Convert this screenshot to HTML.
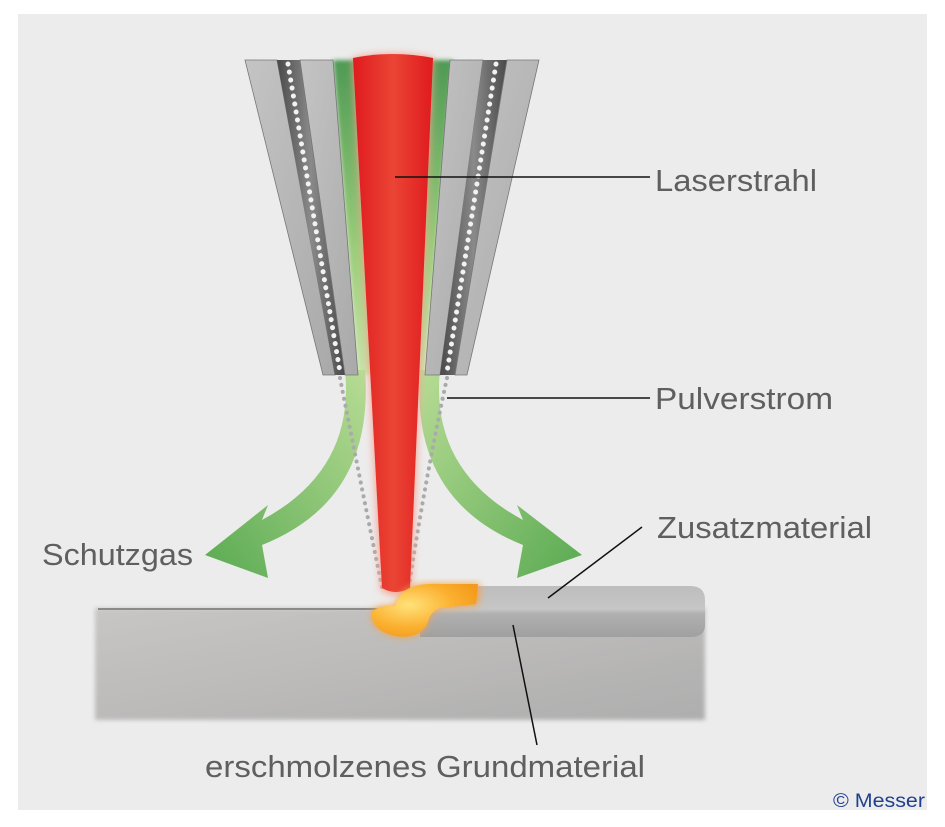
<!DOCTYPE html>
<html><head><style>
body{margin:0;background:#fff;}
svg{display:block;}
text{font-family:"Liberation Sans",sans-serif;fill:#5f5f5f;}
</style></head><body>
<svg width="945" height="827" viewBox="0 0 945 827" xmlns="http://www.w3.org/2000/svg">
<defs>
<linearGradient id="plate" x1="0" y1="0" x2="1" y2="1"><stop offset="0" stop-color="#c4c4c4"/><stop offset="1" stop-color="#a9a9a9"/></linearGradient>
<linearGradient id="groove" x1="0" y1="0" x2="1" y2="0"><stop offset="0" stop-color="#4a4a4a"/><stop offset="0.5" stop-color="#8a8a8a"/><stop offset="1" stop-color="#4a4a4a"/></linearGradient>
<linearGradient id="red" x1="0" y1="0" x2="1" y2="0"><stop offset="0" stop-color="#e01a1e"/><stop offset="0.5" stop-color="#ea4535"/><stop offset="1" stop-color="#e01a1e"/></linearGradient>
<linearGradient id="greenV" x1="0" y1="0" x2="0" y2="1"><stop offset="0" stop-color="#4f9a55"/><stop offset="0.6" stop-color="#9bcd7a"/><stop offset="1" stop-color="#c8e3a8"/></linearGradient>
<linearGradient id="arrowL" x1="1" y1="0" x2="0" y2="1"><stop offset="0" stop-color="#b8dc95"/><stop offset="1" stop-color="#5aaa52"/></linearGradient>
<linearGradient id="arrowR" x1="0" y1="0" x2="1" y2="1"><stop offset="0" stop-color="#b8dc95"/><stop offset="1" stop-color="#5aaa52"/></linearGradient>
<linearGradient id="work" x1="0" y1="0" x2="1" y2="1"><stop offset="0" stop-color="#c8c6c4"/><stop offset="1" stop-color="#aeaeae"/></linearGradient>
<linearGradient id="bead" x1="0" y1="0" x2="0" y2="1"><stop offset="0" stop-color="#bdbdbd"/><stop offset="0.45" stop-color="#c6c6c6"/><stop offset="0.55" stop-color="#b0b0b0"/><stop offset="1" stop-color="#a0a0a0"/></linearGradient>
<radialGradient id="pool" cx="0.35" cy="0.4" r="0.7"><stop offset="0" stop-color="#ffe27a"/><stop offset="0.6" stop-color="#fbb030"/><stop offset="1" stop-color="#f39a1a"/></radialGradient>
<filter id="blur"><feGaussianBlur stdDeviation="4"/></filter>
<filter id="blur2"><feGaussianBlur stdDeviation="2"/></filter>
</defs>
<rect x="18" y="14" width="909" height="796" fill="#ececec"/>

<polygon points="333,60 453,60 425,375 358,375" fill="url(#greenV)" filter="url(#blur2)"/>
<path d="M345 370 Q355 470 262 520 L268 505 L205 555 L268 578 L262 545 Q375 500 365 370 Z" fill="url(#arrowL)"/>
<path d="M440 370 Q430 470 523 520 L517 505 L582 555 L517 578 L523 545 Q410 500 420 370 Z" fill="url(#arrowR)"/>

<polygon points="245,60 277,60 335,375 323,375" fill="url(#plate)" stroke="#777" stroke-width="0.8"/>
<polygon points="277,60 300,60 345,375 335,375" fill="url(#groove)"/>
<polygon points="300,60 333,60 358,375 345,375" fill="url(#plate)" stroke="#777" stroke-width="0.8"/>
<line x1="288" y1="64" x2="340" y2="372" stroke="#f2f2f2" stroke-width="5" stroke-dasharray="0.1 8" stroke-linecap="round"/>
<polygon points="450,60 483,60 440,375 425,375" fill="url(#plate)" stroke="#777" stroke-width="0.8"/>
<polygon points="483,60 507,60 455,375 440,375" fill="url(#groove)"/>
<polygon points="507,60 539,60 467,375 455,375" fill="url(#plate)" stroke="#777" stroke-width="0.8"/>
<line x1="496" y1="64" x2="447" y2="372" stroke="#f2f2f2" stroke-width="5" stroke-dasharray="0.1 8" stroke-linecap="round"/>

<path d="M340 378 Q360 480 383 592" fill="none" stroke="#aaa" stroke-width="4" stroke-dasharray="0.1 7" stroke-linecap="round"/>
<path d="M447 378 Q425 480 408 592" fill="none" stroke="#aaa" stroke-width="4" stroke-dasharray="0.1 7" stroke-linecap="round"/>

<path d="M353 58 Q393 50 433 58 L411 590 Q396 600 381 590 Z" fill="#f5a090" filter="url(#blur)"/>
<path d="M353 58 Q393 50 433 58 L410 588 Q396 596 382 588 Z" fill="url(#red)"/>

<rect x="95" y="608" width="610" height="112" fill="url(#work)" filter="url(#blur2)"/>
<rect x="98" y="608" width="607" height="2" fill="#8a8a8a"/>
<path d="M420 586 L690 586 Q705 586 705 600 L705 625 Q705 637 690 637 L420 637 Z" fill="url(#bead)"/>
<path d="M410 588 Q420 583 440 584 L480 584 L478 605 L440 608 Q430 612 428 622 Q420 640 395 636 Q370 630 372 612 Q378 605 395 606 Q400 592 410 588 Z" fill="#f7a24a" filter="url(#blur)"/>
<path d="M410 588 Q420 583 440 584 L478 584 L476 604 L440 608 Q430 612 428 622 Q420 640 395 636 Q370 630 372 612 Q378 605 395 606 Q400 592 410 588 Z" fill="url(#pool)"/>

<g stroke="#111" stroke-width="1.5">
<line x1="395" y1="177" x2="650" y2="177"/>
<line x1="447" y1="398" x2="650" y2="398"/>
<line x1="548" y1="598" x2="642" y2="527"/>
<line x1="513" y1="625" x2="537" y2="745"/>
</g>
<text x="655" y="191" font-size="31" textLength="162" lengthAdjust="spacingAndGlyphs">Laserstrahl</text>
<text x="655" y="409" font-size="31" textLength="178" lengthAdjust="spacingAndGlyphs">Pulverstrom</text>
<text x="657" y="538" font-size="31" textLength="215" lengthAdjust="spacingAndGlyphs">Zusatzmaterial</text>
<text x="42" y="565" font-size="31" textLength="151" lengthAdjust="spacingAndGlyphs">Schutzgas</text>
<text x="205" y="777" font-size="31" textLength="440" lengthAdjust="spacingAndGlyphs">erschmolzenes Grundmaterial</text>
<text x="833" y="807" font-size="19" textLength="92" lengthAdjust="spacingAndGlyphs" style="fill:#1f3f8f">© Messer</text>
</svg>
</body></html>
